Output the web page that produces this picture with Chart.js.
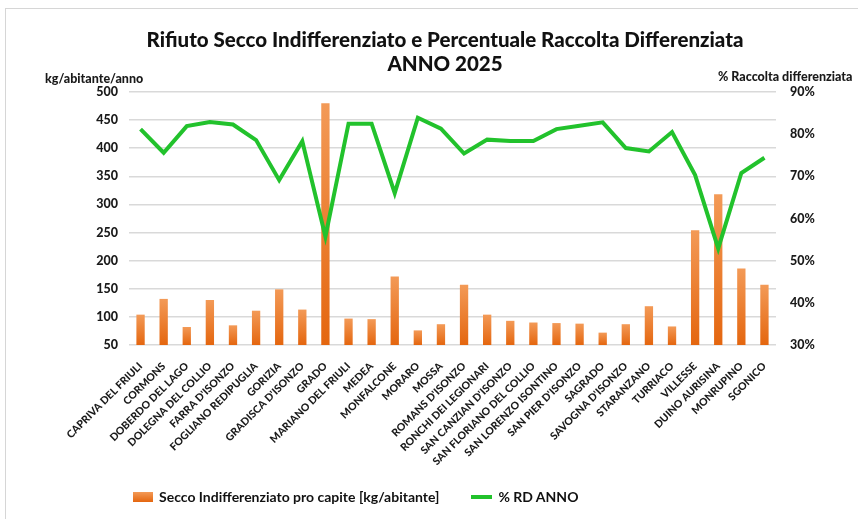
<!DOCTYPE html>
<html lang="it">
<head>
<meta charset="utf-8">
<title>Rifiuto Secco Indifferenziato e Percentuale Raccolta Differenziata - ANNO 2025</title>
<script src="https://cdn.jsdelivr.net/npm/chart.js@4.4.1/dist/chart.umd.min.js"></script>
<style>
  html, body { margin: 0; padding: 0; background: #fff; }
  body { width: 858px; height: 519px; position: relative; overflow: hidden; font-family: Lato, 'Open Sans', sans-serif; }
  .frame { position: absolute; left: 5px; top: 8px; width: 900px; height: 600px; border: 1px solid #d6d6d6; background: #fff; }
  .wrap { position: absolute; left: 0; top: 0; width: 858px; height: 519px; }
  .title { position: absolute; left: 95px; width: 700px; text-align: center; font-weight: 900; font-size: 20.5px; color: #111; line-height: 24px; top: 27px; }
  .axis-title { position: absolute; font-weight: 900; font-size: 12.5px; color: #1a1a1a; white-space: nowrap; }
  .legend { position: absolute; top: 488px; left: 133px; font-size: 14px; font-weight: bold; color: #111; display: flex; align-items: center; white-space: nowrap; }
  .legend .box { width: 20px; height: 10px; background: linear-gradient(#f39a57, #e4660f); margin-right: 6px; }
  .legend .line { width: 21px; height: 4px; background: #22c22c; margin-left: 32px; margin-right: 6px; }
</style>
</head>
<body>
<div class="frame"></div>
<div class="wrap"><canvas id="chart" width="858" height="519"></canvas></div>
<div class="title">Rifiuto Secco Indifferenziato e Percentuale Raccolta Differenziata<br>ANNO 2025</div>
<div class="axis-title" style="left:45px; top:71px;">kg/abitante/anno</div>
<div class="axis-title" style="left:718px; top:69px;">% Raccolta differenziata</div>
<div class="legend">
  <span class="box"></span><span>Secco Indifferenziato pro capite [kg/abitante]</span>
  <span class="line"></span><span>% RD ANNO</span>
</div>
<script>
const comuni = [
  'CAPRIVA DEL FRIULI', 'CORMONS', 'DOBERDO DEL LAGO', 'DOLEGNA DEL COLLIO',
  "FARRA D'ISONZO", 'FOGLIANO REDIPUGLIA', 'GORIZIA', "GRADISCA D'ISONZO",
  'GRADO', 'MARIANO DEL FRIULI', 'MEDEA', 'MONFALCONE', 'MORARO', 'MOSSA',
  "ROMANS D'ISONZO", 'RONCHI DEI LEGIONARI', "SAN CANZIAN D'ISONZO",
  'SAN FLORIANO DEL COLLIO', 'SAN LORENZO ISONTINO', "SAN PIER D'ISONZO",
  'SAGRADO', "SAVOGNA D'ISONZO", 'STARANZANO', 'TURRIACO', 'VILLESSE',
  'DUINO AURISINA', 'MONRUPINO', 'SGONICO'
];

// kg/abitante/anno
const seccoProCapite = [
  104, 132, 82, 130, 85, 111, 149, 113, 480, 97, 96, 172, 76, 87,
  157, 104, 93, 90, 89, 88, 72, 87, 119, 83, 254, 318, 186, 157
];

// % raccolta differenziata
const rdAnno = [
  81.2, 75.6, 81.9, 82.9, 82.3, 78.6, 69.1, 78.3, 55.7, 82.5, 82.5, 66.0, 83.9, 81.3,
  75.4, 78.7, 78.4, 78.4, 81.2, 82.0, 82.8, 76.7, 75.9, 80.5, 70.3, 52.9, 70.8, 74.4
];

const kgTicks = [50, 100, 150, 200, 250, 300, 350, 400, 450, 500];
const pctTicks = [30, 40, 50, 60, 70, 80, 90];

const tickFont = { family: 'Lato', size: 12.5, weight: '900' };

const barColor = (context) => {
  const chart = context.chart;
  const area = chart.chartArea;
  if (!area || !chart.scales.y || context.type !== 'data') {
    return '#ec7a2c';
  }
  const top = chart.scales.y.getPixelForValue(context.raw);
  const gradient = chart.ctx.createLinearGradient(0, top, 0, area.bottom);
  gradient.addColorStop(0, '#f39a57');
  gradient.addColorStop(1, '#e4660f');
  return gradient;
};

const ctx = document.getElementById('chart').getContext('2d');

new Chart(ctx, {
  type: 'bar',
  data: {
    labels: comuni,
    datasets: [
      {
        type: 'line',
        label: '% RD ANNO',
        data: rdAnno,
        yAxisID: 'y1',
        borderColor: '#22c22c',
        borderWidth: 4,
        pointRadius: 0,
        tension: 0,
        order: 0,
      },
      {
        type: 'bar',
        label: 'Secco Indifferenziato pro capite [kg/abitante]',
        data: seccoProCapite,
        yAxisID: 'y',
        backgroundColor: barColor,
        barPercentage: 0.36,
        categoryPercentage: 1,
        order: 1,
      },
    ],
  },
  options: {
    responsive: false,
    animation: false,
    layout: {
      padding: { top: 92, bottom: 44, left: 0, right: 0 },
    },
    plugins: {
      legend: { display: false },
      title: { display: false },
      tooltip: { enabled: false },
    },
    scales: {
      x: {
        grid: { display: false },
        border: { display: false },
        ticks: {
          autoSkip: false,
          maxRotation: 45,
          minRotation: 45,
          padding: 7,
          color: '#1a1a1a',
          font: { family: 'Lato', size: 10.5, weight: '900' },
        },
        afterFit: (scale) => { scale.height = 130; },
      },
      y: {
        position: 'left',
        min: 50,
        max: 500,
        afterBuildTicks: (scale) => { scale.ticks = kgTicks.map((v) => ({ value: v })); },
        grid: { color: '#d9d9d9', lineWidth: 1.5, drawTicks: false },
        border: { display: false },
        ticks: { padding: 11, color: '#1a1a1a', font: tickFont },
        afterFit: (scale) => { scale.width = 129; },
      },
      y1: {
        position: 'right',
        min: 30,
        max: 90,
        afterBuildTicks: (scale) => { scale.ticks = pctTicks.map((v) => ({ value: v })); },
        grid: { display: false, drawTicks: false },
        border: { display: false },
        ticks: {
          padding: 14,
          color: '#1a1a1a',
          font: tickFont,
          callback: (v) => v + '%',
        },
        afterFit: (scale) => { scale.width = 82; },
      },
    },
  },
});
</script>
</body>
</html>
